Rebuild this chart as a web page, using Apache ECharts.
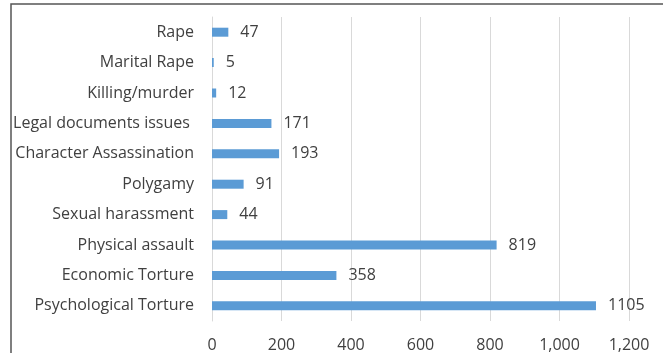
<!DOCTYPE html>
<html>
<head>
<meta charset="utf-8">
<script src="https://cdn.jsdelivr.net/npm/echarts@6/dist/echarts.min.js"></script>
<style>
  html, body { margin: 0; padding: 0; background: #fff; }
  #chart { width: 663px; height: 353px; }
</style>
</head>
<body>
<div id="chart"></div>
<script>
// Reported cases by type of violence (top to bottom as listed)
const categories = [
  'Rape', 'Marital Rape', 'Killing/murder', 'Legal documents issues ',
  'Character Assassination', 'Polygamy', 'Sexual harassment',
  'Physical assault', 'Economic Torture', 'Psychological Torture'
];
const cases = [47, 5, 12, 171, 193, 91, 44, 819, 358, 1105];
const tickLabels = ['0', '200', '400', '600', '800', '1,000', '1,200'];

const font = '"Open Sans", "Noto Sans", sans-serif';
const textColor = '#404040';

const chart = echarts.init(document.getElementById('chart'), null, { renderer: 'canvas' });
chart.setOption({
  animation: false,
  backgroundColor: '#fff',
  graphic: [{
    type: 'rect',
    shape: { x: 11, y: 4, width: 700, height: 400 },
    style: { fill: 'none', stroke: '#555', lineWidth: 1.5 },
    silent: true
  }],
  grid: { left: 212, right: 34, top: 17, bottom: 32, containLabel: false },
  xAxis: {
    type: 'value',
    min: 0, max: 1200, interval: 200,
    axisLine: { show: false },
    axisTick: { show: false },
    splitLine: { lineStyle: { color: '#d9d9d9', width: 1 } },
    axisLabel: {
      margin: 16,
      color: textColor,
      fontFamily: font,
      fontSize: 16,
      formatter: (v) => tickLabels[Math.round(v / 200)]
    }
  },
  yAxis: {
    type: 'category',
    inverse: true,
    data: categories,
    axisLine: { show: true, lineStyle: { color: '#d9d9d9', width: 1 } },
    axisTick: { show: false },
    axisLabel: { margin: 18, color: textColor, fontFamily: font, fontSize: 16 }
  },
  series: [{
    type: 'bar',
    data: cases,
    barWidth: 9,
    itemStyle: { color: '#5b9bd5' },
    label: {
      show: true,
      position: 'right',
      distance: 12,
      color: textColor,
      fontFamily: font,
      fontSize: 16
    }
  }]
});
</script>
</body>
</html>
